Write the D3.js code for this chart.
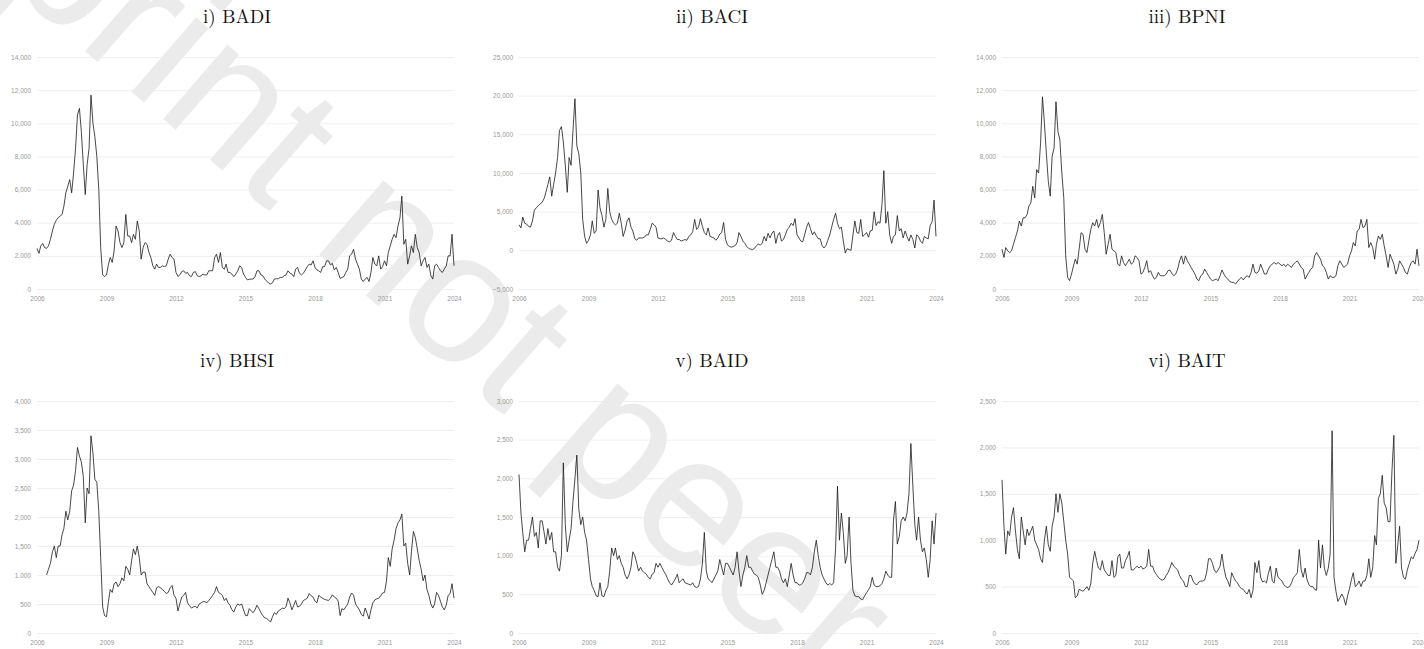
<!DOCTYPE html>
<meta charset="utf-8">
<script src="https://d3js.org/d3.v7.min.js"></script>
<style>
  body { margin: 0; background: #fff; }
  svg text { font-family: "Liberation Sans", Arial, sans-serif; }
</style>
<div id="my_dataviz"></div>
<script>
// monthly values, Jan 2006 .. Jan 2024 (BHSI starts Jun 2006)
const BADI = [
  2450, 2150, 2600, 2750, 2500, 2450, 2600, 3000, 3500, 3900, 4150, 4300,
  4400, 4500, 5000, 5800, 6200, 6600, 5800, 7000, 8500, 10500, 10900, 9500,
  7500, 5700, 7500, 8500, 11700, 10000, 9200, 8000, 6000, 2500, 850, 750,
  850, 1500, 1900, 1600, 2300, 3800, 3500, 2800, 2500, 2800, 4500, 3200,
  3200, 2800, 3300, 3000, 4100, 3500, 1800, 2500, 2800, 2700, 2200, 1900,
  1400, 1200, 1500, 1300, 1300, 1400, 1350, 1400, 1800, 2100, 1900, 1800,
  1000, 750, 850, 1050, 1100, 950, 1000, 800, 750, 1000, 1050, 800,
  750, 800, 900, 850, 850, 1100, 1100, 1100, 1900, 2100, 1600, 2200,
  1300, 1200, 1500, 1000, 1000, 900, 750, 900, 1100, 1400, 1300, 900,
  700, 550, 580, 600, 600, 750, 1100, 1100, 850, 800, 600, 480,
  350, 300, 380, 600, 620, 620, 700, 700, 800, 850, 1100, 960,
  900, 750, 1200, 1300, 950, 850, 950, 1150, 1350, 1500, 1450, 1700,
  1300, 1150, 1100, 1000, 1350, 1350, 1700, 1700, 1450, 1550, 1150, 1300,
  1000, 630, 700, 750, 1000, 1200, 2000, 2100, 2400, 1800, 1500, 1200,
  600, 450, 600, 700, 450, 1000, 1900, 1500, 1400, 2000, 1200, 1350,
  1700, 1400, 2200, 2600, 3000, 3300, 3100, 3800, 4300, 5600, 2700, 3000,
  1500, 2000, 2600, 2200, 3300, 2500, 2200, 1400, 1700, 1900, 1300, 1500,
  800, 600, 1400, 1500, 1300, 1100, 1000, 1200, 1400, 2000, 2000, 3300,
  1400
];
const BACI = [
  3300, 2900, 4300, 3500, 3400, 3100, 3000, 3800, 5200, 5500, 5800, 6000,
  6200, 6700, 7500, 8500, 9500, 7000, 8500, 10000, 12000, 15500, 16000, 14000,
  11000, 7500, 12000, 11000, 15500, 19600, 13500, 12500, 10000, 4000, 1800, 900,
  1300, 2000, 3800, 2200, 2500, 7800, 5500, 4500, 3000, 4000, 8000, 5000,
  4000, 3500, 3300, 3500, 4800, 3500, 1800, 2600, 3800, 4200, 3000, 2500,
  1500, 1300, 1600, 1600, 1600, 1700, 2000, 2000, 2700, 3500, 3300, 3000,
  1600, 1500, 1500, 1600, 1400, 1200, 1100, 1300, 2300, 1800, 1400, 1400,
  1200, 1300, 1400, 1300, 1800, 2000, 2400, 4000, 2700, 3000, 4100, 3100,
  2300, 2000, 2900, 1800, 1700, 1600, 1300, 1600, 2100, 2300, 3600, 1400,
  700, 500, 400, 500, 600, 1000, 2300, 1800, 1200, 900, 500, 250,
  150, 100, 250, 600, 800, 700, 900, 1800, 1200, 2200, 1600, 2200,
  2500, 900, 1900, 2300, 1200, 1400, 2000, 2700, 3000, 3500, 3200, 4100,
  2000, 1600, 1200, 1100, 2000, 3000, 3600, 2800, 2000, 2400, 1900, 1500,
  1500, 600, 300, 600, 1300, 2000, 3000, 4000, 4800, 3500, 2800, 3000,
  1200, -350, 200, 100, 0, 2000, 3800, 2300, 2200, 4000, 1800, 2000,
  2300, 1700, 2500, 2600, 5000, 3200, 3700, 3500, 5900, 10300, 3500, 5000,
  2000, 900, 1800, 2000, 4500, 2500, 2800, 1600, 2500, 1800, 1200, 2000,
  1400, 300, 2000, 1800, 1200, 900, 1800, 1600, 1500, 3200, 3700, 6500,
  1800
];
const BPNI = [
  2400, 1900, 2500, 2300, 2200, 2300, 2700, 3100, 3500, 4100, 3800, 4300,
  4300, 4500, 5000, 5200, 6200, 5500, 7200, 7000, 8800, 11600, 10000, 8200,
  6500, 5600, 8000, 8500, 11300, 9500, 9000, 7000, 5500, 2000, 700, 500,
  900, 1400, 1800, 1500, 2400, 3400, 3300, 2400, 2200, 2900, 3600, 4000,
  3800, 4200, 3700, 4000, 4500, 3400, 2100, 2700, 3300, 2400, 2300, 2200,
  1500, 1400, 2000, 1600, 1400, 1600, 1800, 1500, 1600, 2000, 1900, 1700,
  900, 1000, 1300, 1700, 1000, 1100, 800, 600, 700, 1000, 800, 800,
  800, 900, 1100, 1150, 950, 800, 900, 1200, 1700, 2000, 1500, 2000,
  1700, 1500, 1300, 1100, 900, 600, 500, 800, 900, 1200, 1000, 800,
  600, 500, 550, 600, 500, 800, 1150, 900, 700, 600, 450, 400,
  400, 300, 450, 600, 700, 550, 700, 800, 700, 1000, 1500, 1000,
  950, 1100, 1500, 1200, 900, 900, 1200, 1400, 1500, 1600, 1500, 1600,
  1500, 1400, 1500, 1350, 1500, 1400, 1300, 1500, 1600, 1700, 1500, 1300,
  1200, 600, 800, 1000, 1200, 1300, 2000, 2200, 2000, 1800, 1400, 1300,
  1000, 600, 800, 700, 700, 800, 1400, 1700, 1500, 1300, 1400, 1500,
  2000, 2300, 2800, 2600, 3500, 3600, 4200, 3700, 3800, 4200, 2500, 2800,
  2500, 1800, 2700, 3200, 3000, 3300, 2600, 2000, 1300, 2100, 1800, 1500,
  900, 1200, 1700, 1500, 1300, 1000, 900, 1300, 1600, 1700, 1500, 2400,
  1400
];
const BHSI = [
  1000, 1100, 1200, 1400, 1500, 1300, 1500,
  1500, 1700, 1800, 2100, 1950, 2100, 2450, 2550, 2800, 3200, 3050, 2950,
  2700, 1900, 2500, 2400, 3400, 3100, 2650, 2600, 2100, 1300, 450, 300,
  280, 550, 750, 700, 850, 880, 800, 850, 950, 900, 1150, 1100,
  1000, 1250, 1450, 1350, 1500, 1300, 1000, 1050, 1050, 850, 800, 750,
  700, 650, 780, 800, 780, 750, 720, 680, 700, 780, 820, 650,
  600, 380, 500, 620, 650, 700, 520, 470, 430, 450, 460, 430,
  500, 520, 540, 540, 520, 560, 600, 650, 700, 800, 700, 680,
  650, 560, 600, 520, 480, 400, 360, 450, 500, 480, 500, 400,
  300, 300, 420, 380, 350, 400, 480, 420, 350, 300, 260, 250,
  220, 190, 280, 350, 320, 380, 400, 430, 420, 450, 600, 520,
  400, 480, 560, 450, 460, 500, 560, 580, 600, 680, 640, 620,
  550, 520, 650, 620, 600, 580, 570, 560, 600, 660, 620, 600,
  550, 300, 420, 400, 450, 500, 620, 690, 650, 500, 450, 400,
  320, 290, 430, 340, 240, 400, 520, 570, 590, 600, 640, 690,
  700, 900, 1300, 1150, 1450, 1600, 1800, 1900, 1950, 2050, 1500, 1550,
  1200, 1000, 1400, 1750, 1650, 1450, 1250, 1100, 900, 1000, 750, 650,
  500, 430, 500, 700, 650, 550, 450, 400, 480, 650, 680, 850,
  600
];
const BAID = [
  2050, 1550, 1300, 1050, 1200, 1200, 1350, 1500, 1250, 1300, 1100, 1450,
  1450, 1300, 1150, 1350, 1200, 1300, 1050, 1050, 850, 800, 1000, 2200,
  1400, 1050, 1200, 1350, 1700, 2000, 2300, 1600, 1400, 1500, 1300, 1200,
  950, 700, 600, 550, 480, 470, 650, 480, 470, 550, 600, 800,
  1100, 1000, 1100, 950, 1000, 900, 850, 750, 700, 750, 850, 1050,
  1000, 900, 800, 850, 800, 780, 760, 720, 700, 760, 780, 900,
  850, 900, 850, 800, 760, 700, 650, 620, 660, 700, 760, 650,
  680, 700, 650, 640, 630, 620, 650, 600, 590, 600, 700, 900,
  1300, 800, 700, 680, 650, 700, 750, 800, 950, 850, 750, 900,
  900, 850, 800, 750, 850, 1050, 800, 600, 750, 850, 1000, 850,
  850, 800, 760, 750, 720, 620, 500, 550, 650, 750, 850, 950,
  1050, 850, 850, 800, 700, 650, 700, 600, 750, 900, 750, 650,
  650, 620, 620, 650, 700, 780, 780, 750, 850, 1050, 1200, 1000,
  850, 750, 700, 650, 620, 640, 620, 650, 1100, 1900, 1200, 1550,
  1300, 900, 1000, 1500, 900, 550, 480, 470, 470, 440, 430, 480,
  520, 560, 600, 720, 620, 600, 600, 610, 640, 700, 800, 750,
  720, 720, 1450, 1700, 1150, 1250, 1450, 1500, 1450, 1550, 1800, 2450,
  1900, 1400, 1200, 1500, 1200, 1050, 1100, 950, 720, 950, 1450, 1150,
  1550
];
const BAIT = [
  1650, 1150, 850, 1100, 1050, 1250, 1350, 1100, 900, 800, 1250, 1100,
  950, 1120, 1050, 1100, 1150, 1000, 950, 900, 800, 760, 1000, 1150,
  950, 880, 1150, 1250, 1500, 1300, 1500, 1400, 1200, 1000, 850, 600,
  580, 560, 380, 400, 470, 460, 450, 470, 500, 460, 530, 750,
  880, 780, 700, 680, 780, 680, 650, 620, 620, 780, 600, 620,
  820, 850, 700, 700, 780, 820, 880, 680, 680, 700, 720, 700,
  720, 690, 700, 720, 900, 720, 720, 660, 630, 600, 580, 570,
  580, 620, 650, 700, 760, 720, 700, 680, 620, 580, 560, 500,
  500, 620, 620, 560, 530, 520, 550, 560, 560, 570, 650, 800,
  800, 750, 680, 650, 680, 720, 850, 700, 600, 560, 500, 650,
  600, 560, 540, 500, 480, 470, 440, 420, 470, 380, 460, 760,
  650, 780, 600, 550, 560, 540, 640, 720, 560, 540, 700, 600,
  580, 560, 520, 500, 490, 500, 540, 600, 620, 650, 900, 680,
  600, 700, 580, 520, 500, 500, 470, 460, 1000, 700, 950, 700,
  620, 700, 850, 2180, 600, 450, 340, 380, 420, 380, 300, 400,
  480, 580, 650, 500, 520, 560, 500, 560, 560, 620, 800, 600,
  700, 1050, 950, 1450, 1500, 1700, 1400, 1350, 1200, 1200, 1750, 2130,
  750, 950, 1150, 700, 600, 580, 680, 750, 820, 800, 860, 900,
  1000
];

const titles = ["i) BADI", "ii) BACI", "iii) BPNI", "iv) BHSI", "v) BAID", "vi) BAIT"];
const series = [BADI, BACI, BPNI, BHSI, BAID, BAIT];
const startMonths = ["2006-01", "2006-01", "2006-01", "2006-06", "2006-01", "2006-01"];
const yTicks = [
  [0, 2000, 4000, 6000, 8000, 10000, 12000, 14000],
  [-5000, 0, 5000, 10000, 15000, 20000, 25000],
  [0, 2000, 4000, 6000, 8000, 10000, 12000, 14000],
  [0, 500, 1000, 1500, 2000, 2500, 3000, 3500, 4000],
  [0, 500, 1000, 1500, 2000, 2500, 3000],
  [0, 500, 1000, 1500, 2000, 2500]
];
const yearTicks = [2006, 2009, 2012, 2015, 2018, 2021, 2024];

const W = 1424, H = 649;
const colLeft = [37, 519, 1002], rowTop = [57, 401];
const pw = 417, ph = 232;

const svg = d3.select("#my_dataviz").append("svg")
    .attr("width", W).attr("height", H);

// watermark
svg.append("text")
    .attr("transform", "translate(-221,-215) rotate(41)")
    .style("font-size", "186px")
    .style("fill", "#ebebeb")
    .text("Preprint not peer reviewed");

const parseMonth = d3.timeParse("%Y-%m");
const x = d3.scaleTime()
    .domain([new Date(2006, 0, 1), new Date(2024, 0, 1)])
    .range([0, pw]);

series.forEach(function(vals, i) {
  const col = i % 3, row = Math.floor(i / 3);
  const t0 = parseMonth(startMonths[i]);
  const data = vals.map(function(v, k) { return {date: d3.timeMonth.offset(t0, k), value: v}; });
  const yt = yTicks[i];

  const g = svg.append("g")
      .attr("transform", "translate(" + colLeft[col] + "," + rowTop[row] + ")");

  const y = d3.scaleLinear()
      .domain([yt[0], yt[yt.length - 1]])
      .range([ph, 0]);

  // title
  svg.append("text")
      .attr("x", col * 475 + 237)
      .attr("y", rowTop[row] - 34)
      .attr("text-anchor", "middle")
      .style("font-family", "'Latin Modern Roman','CMU Serif','Liberation Serif',serif")
      .style("font-size", "19px")
      .style("fill", "#111")
      .text(titles[i]);

  // y axis + grid
  const ya = g.append("g")
      .call(d3.axisLeft(y).tickValues(yt).tickSize(-pw).tickPadding(6).tickFormat(d3.format(",")));
  ya.select(".domain").remove();
  ya.selectAll(".tick line").attr("stroke", "#ebebeb").attr("stroke-width", 0.8);
  ya.selectAll(".tick text").style("font-size", "6.5px").attr("fill", "#999");

  // x axis
  const xa = g.append("g")
      .attr("transform", "translate(0," + ph + ")")
      .call(d3.axisBottom(x)
        .tickValues(yearTicks.map(function(yr) { return new Date(yr, 0, 1); }))
        .tickSize(0).tickPadding(7).tickFormat(d3.timeFormat("%Y")));
  xa.select(".domain").remove();
  xa.selectAll(".tick text").style("font-size", "6.5px").attr("fill", "#999");

  // line
  g.append("path")
      .datum(data)
      .attr("fill", "none")
      .attr("stroke", "#1a1a1a")
      .attr("stroke-width", 0.8)
      .attr("stroke-linejoin", "round")
      .attr("d", d3.line()
        .x(function(d) { return x(d.date); })
        .y(function(d) { return y(d.value); }));
});
</script>
